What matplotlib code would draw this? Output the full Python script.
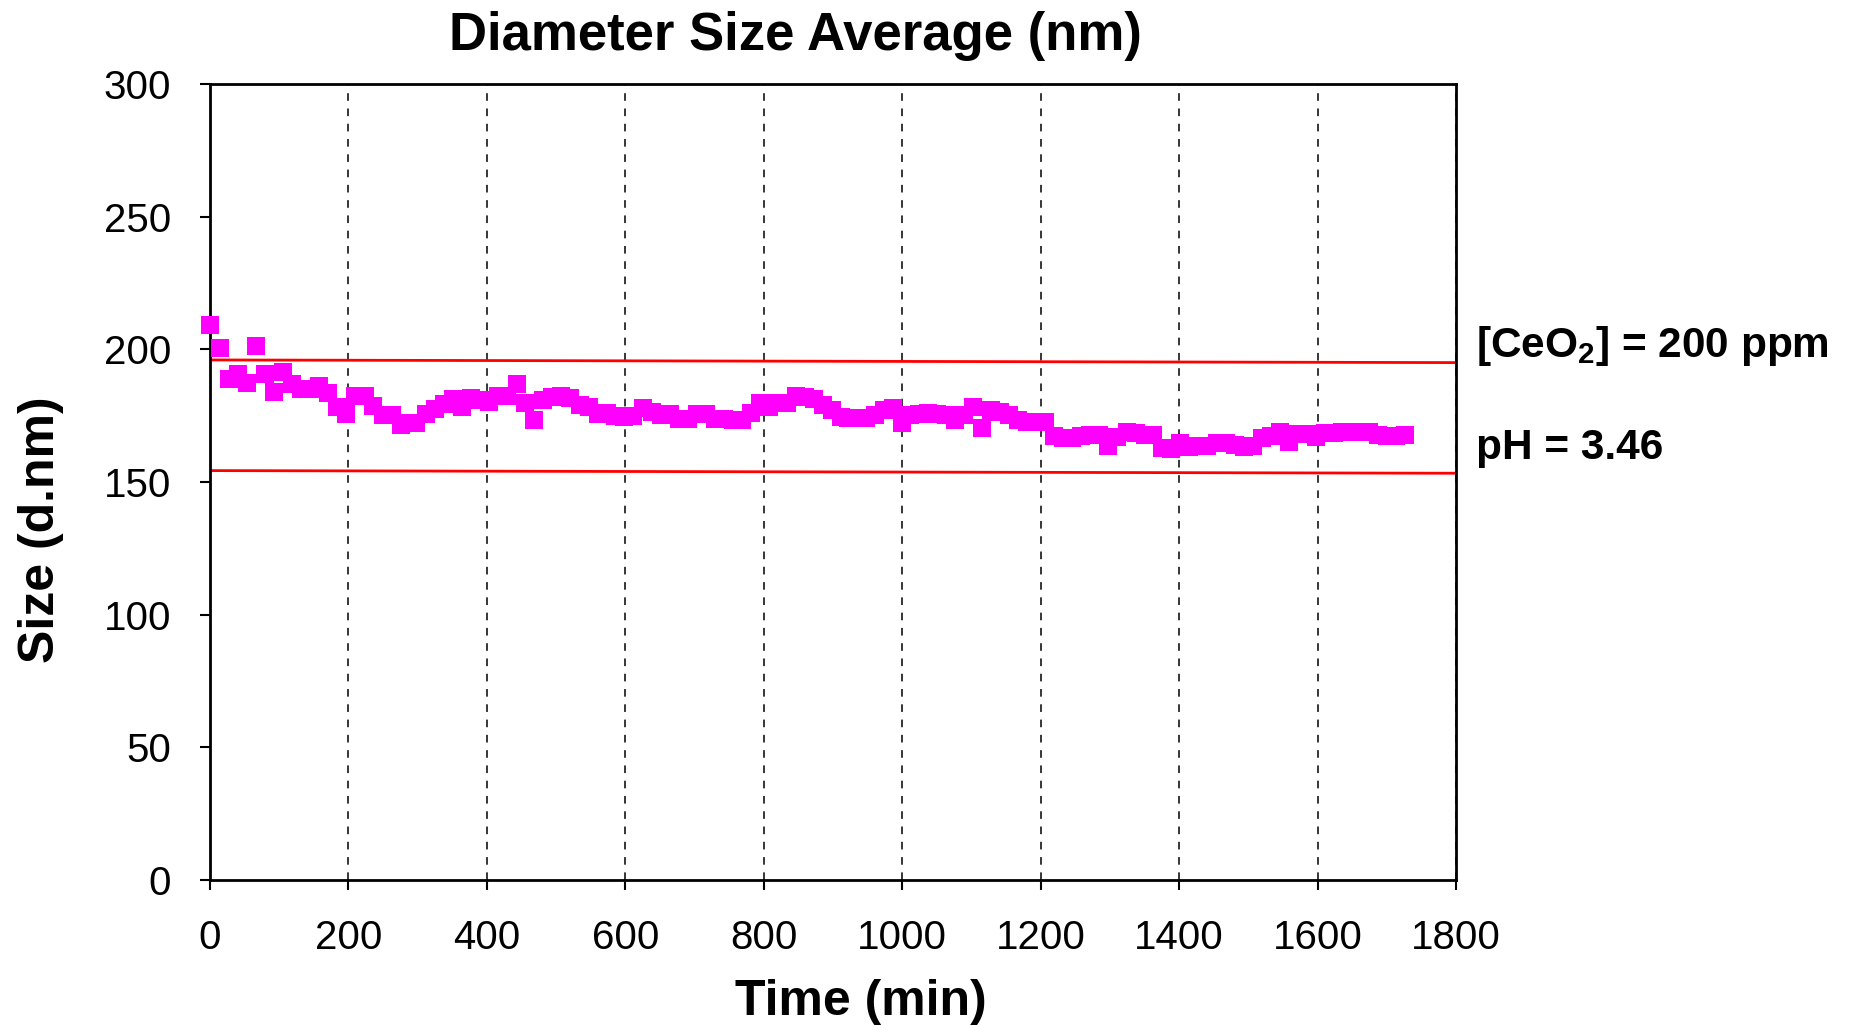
import matplotlib
matplotlib.use("Agg")
import matplotlib.pyplot as plt

plt.rcParams['font.family'] = ['Liberation Sans', 'DejaVu Sans']
plt.rcParams['mathtext.fontset'] = 'custom'
plt.rcParams['mathtext.rm'] = 'Liberation Sans:bold'
plt.rcParams['mathtext.bf'] = 'Liberation Sans:bold'

time_min = [0, 14, 27, 40, 53, 67, 80, 92, 105, 118, 132, 144, 157, 171, 184, 197,
            210, 224, 236, 250, 263, 276, 286, 298, 312, 325, 338, 351, 364, 377,
            390, 403, 416, 429, 443, 455, 468, 481, 494, 507, 520, 534, 547, 560,
            573, 585, 598, 611, 625, 638, 651, 664, 677, 690, 703, 716, 729, 742,
            755, 768, 781, 794, 807, 820, 833, 846, 859, 872, 885, 898, 911, 922,
            935, 948, 961, 974, 987, 1000, 1011, 1024, 1037, 1050, 1063, 1076,
            1089, 1102, 1115, 1128, 1141, 1154, 1167, 1180, 1193, 1206, 1219, 1232,
            1245, 1258, 1271, 1284, 1297, 1310, 1324, 1337, 1350, 1363, 1376, 1389,
            1402, 1415, 1428, 1441, 1455, 1468, 1481, 1494, 1507, 1520, 1533, 1546,
            1559, 1572, 1585, 1598, 1611, 1624, 1636, 1649, 1662, 1675, 1688, 1701,
            1714, 1726]
size_nm = [209.1, 200.6, 188.8, 190.7, 187.4, 201.3, 190.7, 184.0, 191.3, 186.9,
           185.2, 185.0, 186.2, 183.6, 178.4, 175.6, 182.4, 182.4, 178.7, 175.1,
           175.2, 171.5, 172.1, 172.1, 175.5, 177.6, 179.4, 181.1, 178.4, 181.5,
           180.9, 180.2, 182.4, 182.4, 187.0, 179.9, 173.3, 180.9, 181.9, 182.4,
           181.6, 179.0, 178.4, 175.6, 175.9, 174.9, 174.6, 174.9, 178.0, 176.5,
           175.2, 175.5, 173.6, 173.6, 175.5, 175.5, 173.8, 173.8, 173.4, 173.4,
           175.9, 179.9, 178.4, 179.9, 179.9, 182.4, 182.1, 181.1, 179.0, 177.2,
           174.4, 174.0, 174.0, 174.2, 175.2, 177.2, 177.8, 172.1, 175.2, 175.5,
           175.9, 175.5, 175.2, 173.4, 175.2, 178.4, 170.2, 177.2, 176.5, 175.2,
           173.5, 172.5, 172.5, 172.5, 167.4, 166.4, 166.6, 167.4, 167.7, 167.6,
           163.6, 167.0, 168.7, 168.5, 167.6, 167.6, 162.7, 162.4, 164.6, 163.3,
           163.6, 163.6, 164.6, 164.6, 164.0, 163.1, 163.6, 166.5, 167.4, 168.9,
           165.2, 168.0, 168.0, 167.1, 168.6, 168.6, 168.9, 168.9, 168.9, 168.9,
           167.7, 167.4, 167.4, 167.7]

upper_x = [0, 1800]
upper_y = [196.0, 195.0]
lower_x = [0, 1800]
lower_y = [154.3, 153.3]

x_ticks = [0, 200, 400, 600, 800, 1000, 1200, 1400, 1600, 1800]
y_ticks = [0, 50, 100, 150, 200, 250, 300]

W, H = 1852, 1025
fig = plt.figure(figsize=(W / 100, H / 100), dpi=100)
ax = fig.add_axes([210 / W, 1 - 880 / H, (1456 - 210) / W, (880 - 84) / H])

ax.plot(time_min, size_nm, linestyle='none', marker='s', markersize=13.5,
        markeredgewidth=0, color='#ff00ff', zorder=3, clip_on=False)
ax.plot(upper_x, upper_y, color='#ff0000', linewidth=2.0, zorder=2)
ax.plot(lower_x, lower_y, color='#ff0000', linewidth=2.0, zorder=2)

ax.set_xlim(0, 1800)
ax.set_ylim(0, 300)
ax.set_xticks(x_ticks)
ax.set_yticks(y_ticks)
ax.xaxis.grid(True, linestyle=(0, (5, 5)), color='black', linewidth=1.1)
ax.yaxis.grid(False)
ax.set_axisbelow(True)

for s in ax.spines.values():
    s.set_linewidth(2.0)
    s.set_color('black')

ax.tick_params(axis='both', direction='out', length=7, width=1.5,
               labelsize=29, colors='black')
ax.tick_params(axis='x', pad=21)
ax.tick_params(axis='y', pad=21)

fig.text(795 / W, 1 - 36 / H, 'Diameter Size Average (nm)', ha='center',
         va='center', fontsize=38, fontweight='bold')
fig.text(861 / W, 1 - 1002 / H, 'Time (min)', ha='center', va='center',
         fontsize=36, fontweight='bold')
fig.text(41 / W, 1 - 530 / H, 'Size (d.nm)', ha='center', va='center',
         rotation=90, fontsize=36, fontweight='bold')

fig.text(1476 / W, 1 - 346 / H, r'[CeO$_{\mathbf{2}}$] = 200 ppm', ha='left',
         va='center', fontsize=30.5, fontweight='bold')
fig.text(1476 / W, 1 - 448 / H, 'pH = 3.46', ha='left', va='center',
         fontsize=30.5, fontweight='bold')

fig.savefig('out.png', dpi=100)
